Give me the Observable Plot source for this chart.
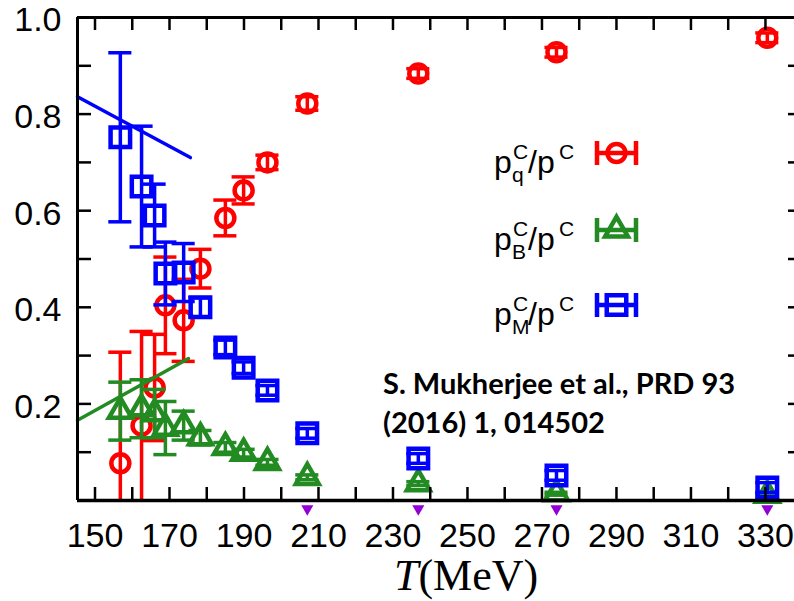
<!DOCTYPE html>
<html><head><meta charset="utf-8">
<script src="https://cdn.jsdelivr.net/npm/d3@7"></script>
<script src="https://cdn.jsdelivr.net/npm/@observablehq/plot@0.6"></script>
<style>
html,body{margin:0;padding:0;background:#fff;overflow:hidden;}
#chart{position:relative;width:794px;height:601px;overflow:hidden;}
#chart svg{overflow:hidden;}
</style></head><body><div id="chart"></div>
<script>
// Temperatures (MeV)
const T = [156.8, 162.5, 166.0, 168.9, 173.8, 178.3, 185.0, 189.9, 196.3, 207.0, 236.8, 273.9, 330.5];
// p_q^C / p^C (red)
const pq = [0.077, 0.155, 0.234, 0.404, 0.373, 0.480, 0.585, 0.642, 0.700, 0.822, 0.884, 0.928, 0.958];
const pqErr = [0.23, 0.195, 0.11, 0.10, 0.085, 0.04, 0.037, 0.028, 0.015, 0.014, 0.010, 0.010, 0.010];
// p_B^C / p^C (green)
const pB = [0.185, 0.190, 0.180, 0.150, 0.155, 0.130, 0.110, 0.098, 0.079, 0.048, 0.035, 0.014, 0.011];
const pBErr = [0.06, 0.06, 0.05, 0.055, 0.03, 0.015, 0.010, 0.008, 0.006, 0.005, 0.004, 0.003, 0.003];
// p_M^C / p^C (blue)
const pM = [0.752, 0.650, 0.590, 0.470, 0.472, 0.400, 0.317, 0.275, 0.228, 0.139, 0.087, 0.052, 0.027];
const pMErr = [0.175, 0.125, 0.065, 0.065, 0.06, 0.02, 0.015, 0.012, 0.010, 0.010, 0.010, 0.010, 0.010];
// small purple series sitting just below zero (only the visible ones)
const pX = [null, null, null, null, null, null, null, null, null, -0.017, -0.017, -0.017, -0.017];
// fit lines
const lineT = [145.3, 175.6];
const blueLineV = [0.836, 0.710];
const greenLineT = [145.3, 175.1];
const greenLineV = [0.166, 0.294];
// ticks
const xTickLabels = [150, 170, 190, 210, 230, 250, 270, 290, 310, 330];
const xTickMarks = [150, 160, 170, 180, 190, 200, 210, 220, 230, 240, 250, 260, 270, 280, 290, 300, 310, 320, 330];
const yTickLabels = [0.2, 0.4, 0.6, 0.8, 1.0];
const yTickMarks = [0.1, 0.2, 0.3, 0.4, 0.5, 0.6, 0.7, 0.8, 0.9];

const RED = "#ff0000", GREEN = "#228b22", BLUE = "#0000ff", PURPLE = "#9400d3";
const xDomain = [145.3, 337.8];
const capHalf = 3.1;

const rows = T.map((t, i) => ({T: t, q: pq[i], qe: pqErr[i], B: pB[i], Be: pBErr[i], M: pM[i], Me: pMErr[i], P: pX[i]}));
const blueLine = lineT.map((t, i) => ({T: t, v: blueLineV[i]}));
const greenLine = greenLineT.map((t, i) => ({T: t, v: greenLineV[i]}));

function series(key, ek, color, symbol, r, sw) {
  const lo = d => d[key] - d[ek], hi = d => d[key] + d[ek];
  return [
    Plot.ruleX(rows, {x: "T", y1: d => Math.max(0, lo(d)), y2: hi, stroke: color, strokeWidth: 3.5}),
    Plot.ruleY(rows.filter(d => lo(d) >= 0), {y: lo, x1: d => d.T - capHalf, x2: d => d.T + capHalf, stroke: color, strokeWidth: 3.5}),
    Plot.ruleY(rows, {y: hi, x1: d => d.T - capHalf, x2: d => d.T + capHalf, stroke: color, strokeWidth: 3.5}),
    Plot.dot(rows, {x: "T", y: key, symbol, r, stroke: color, strokeWidth: sw, fill: "none"})
  ];
}

const W = 794, H = 601, ML = 77, MT = 17, MB = 101;
const plotW = W - ML, plotH = H - MT - MB;

const chart = Plot.plot({
  width: W, height: H,
  marginLeft: ML, marginRight: 0, marginTop: MT, marginBottom: MB,
  style: {fontFamily: "'Liberation Sans', Arial, sans-serif", background: "#fff", color: "#000"},
  x: {domain: xDomain},
  y: {domain: [0, 1]},
  marks: [
    Plot.axisX({ticks: xTickLabels, tickSize: 0, tickPadding: 22, fontSize: 34, label: null, tickFormat: d => String(d)}),
    Plot.axisY({ticks: yTickLabels, tickSize: 0, tickPadding: 16, fontSize: 34, dy: 3, label: null, tickFormat: d3.format(".1f")}),
    ...series("q", "qe", RED, "circle", 9, 4.5),
    ...series("B", "Be", GREEN, "triangle", 8.5, 4.5),
    ...series("M", "Me", BLUE, "square", 11, 4.5),
    Plot.dot(rows, {x: "T", y: "P", symbol: "triangle", rotate: 180, r: 4.5, fill: PURPLE, stroke: "none"}),
    Plot.line(blueLine, {x: "T", y: "v", stroke: BLUE, strokeWidth: 3.5}),
    Plot.line(greenLine, {x: "T", y: "v", stroke: GREEN, strokeWidth: 3.5}),
    // inward tick marks
    Plot.tickX(xTickMarks, {x: d => d, insetTop: plotH - 13, stroke: "#000", strokeWidth: 2.5}),
    Plot.tickX(xTickMarks, {x: d => d, insetBottom: plotH - 13, stroke: "#000", strokeWidth: 2.5}),
    Plot.tickY(yTickMarks, {y: d => d, insetRight: plotW - 14, stroke: "#000", strokeWidth: 2.5}),
    Plot.tickY(yTickMarks, {y: d => d, insetLeft: plotW - 6, stroke: "#000", strokeWidth: 2.5}),
    // frame
    Plot.ruleX([xDomain[0]], {stroke: "#000", strokeWidth: 3}),
    Plot.ruleY([0], {stroke: "#000", strokeWidth: 3.5}),
    Plot.ruleY([1], {stroke: "#000", strokeWidth: 3})
  ]
});
document.getElementById("chart").appendChild(chart);

const svg = d3.select(chart);
// legend
const leg = svg.append("g").attr("font-family", "'Liberation Sans', Arial, sans-serif").attr("fill", "#000").attr("text-anchor", "start");
const entries = [
  {sub: "q", color: RED, sym: d3.symbolCircle, size: Math.PI * 81, y: 173},
  {sub: "B", color: GREEN, sym: d3.symbolTriangle, size: Math.PI * 72, y: 250},
  {sub: "M", color: BLUE, sym: d3.symbolSquare, size: Math.PI * 121, y: 325}
];
for (const e of entries) {
  leg.append("text").attr("x", 494).attr("y", e.y).attr("font-size", 32).text("p");
  leg.append("text").attr("x", 513).attr("y", e.y - 14).attr("font-size", 21).text("C");
  leg.append("text").attr("x", 512).attr("y", e.y + 9).attr("font-size", 21).text(e.sub);
  leg.append("text").attr("x", 528).attr("y", e.y).attr("font-size", 32).text("/p");
  leg.append("text").attr("x", 559).attr("y", e.y - 14).attr("font-size", 21).text("C");
  const cy = e.y - 20;
  const g = leg.append("g").attr("stroke", e.color).attr("stroke-width", 4.5).attr("fill", "none");
  g.append("line").attr("x1", 597).attr("x2", 636).attr("y1", cy).attr("y2", cy);
  g.append("line").attr("x1", 597).attr("x2", 597).attr("y1", cy - 12).attr("y2", cy + 12);
  g.append("line").attr("x1", 636).attr("x2", 636).attr("y1", cy - 12).attr("y2", cy + 12);
  g.append("path").attr("transform", `translate(616.5,${cy})`).attr("d", d3.symbol(e.sym, e.size)());
}
// citation
const cit = svg.append("g").attr("font-family", "Lato, 'Open Sans', sans-serif").attr("font-weight", "bold")
  .attr("font-size", 29).attr("fill", "#000").attr("text-anchor", "start");
cit.append("text").attr("x", 383).attr("y", 394).text("S. Mukherjee et al., PRD 93");
cit.append("text").attr("x", 383).attr("y", 433).text("(2016) 1, 014502");
// x-axis title
const xt = svg.append("text").attr("x", 466).attr("y", 590).attr("text-anchor", "middle")
  .attr("font-family", "'Liberation Serif', 'DejaVu Serif', serif").attr("font-size", 44).attr("fill", "#000");
xt.append("tspan").attr("font-style", "italic").text("T");
xt.append("tspan").text("(MeV)");
</script></body></html>
